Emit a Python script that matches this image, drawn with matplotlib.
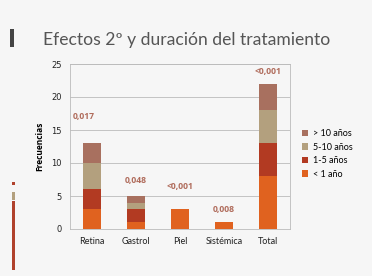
import numpy as np
from matplotlib import pyplot as plt
from matplotlib.patches import Rectangle

categories = ['Retina', 'Gastrol', 'Piel', 'Sistémica', 'Total']
menos_1 = [3, 1, 3, 1, 8]
de_1_5 = [3, 2, 0, 0, 5]
de_5_10 = [4, 1, 0, 0, 5]
mas_10 = [3, 1, 0, 0, 4]
p_values = ['0,017', '0,048', '<0,001', '0,008', '<0,001']
p_heights = [17.0, 7.3, 6.4, 2.9, 23.8]

series = [('< 1 año', menos_1, '#e0621f'),
          ('1-5 años', de_1_5, '#b23a22'),
          ('5-10 años', de_5_10, '#b3a07e'),
          ('> 10 años', mas_10, '#a8705f')]

W, H = 372, 276
fig = plt.figure(figsize=(W / 100, H / 100), dpi=100)
fig.patch.set_facecolor('#f6f6f6')

# slide decorations
fig.add_artist(Rectangle((10 / W, 1 - 47 / H), 4 / W, 18 / H, transform=fig.transFigure,
                         color='#444444', lw=0))
fig.add_artist(Rectangle((12 / W, 1 - 270 / H), 3 / W, 69 / H, transform=fig.transFigure,
                         color='#b0412c', lw=0))
fig.add_artist(Rectangle((12 / W, 1 - 200 / H), 3 / W, 8 / H, transform=fig.transFigure,
                         color='#b3a07e', lw=0))
fig.add_artist(Rectangle((12 / W, 1 - 185 / H), 3 / W, 3 / H, transform=fig.transFigure,
                         color='#b0412c', lw=0))

fig.text(43 / W, 1 - 40 / H, 'Efectos 2º y duración del tratamiento', fontsize=12.6,
         family='Lato', color='#555555', va='center', ha='left')

ax = fig.add_axes([70 / W, 47 / H, 220 / W, 165 / H])
ax.set_facecolor('#f6f6f6')
x = np.arange(len(categories))
bottom = np.zeros(len(categories))
handles = []
for label, vals, color in series:
    b = ax.bar(x, vals, 0.41, bottom=bottom, color=color, label=label, zorder=3)
    handles.append(b)
    bottom += np.array(vals)

for xi, txt, h in zip(x, p_values, p_heights):
    ax.text(xi - 0.18 if xi == 0 else xi, h, txt, ha='center', va='center', fontsize=6.2,
            fontweight='bold', color='#b06c5c', family='Open Sans')

ax.set_xlim(-0.5, 4.5)
ax.set_ylim(0, 25)
ax.set_yticks([0, 5, 10, 15, 20, 25])
ax.set_xticks(x)
ax.set_xticklabels(categories, fontsize=6.5, family='Lato', color='#222222')
ax.tick_params(axis='y', labelsize=6, colors='#222222', length=0, pad=6)
ax.tick_params(axis='x', length=0, pad=6)
ax.grid(axis='y', color='#bbbbbb', lw=0.6, zorder=0)
for s in ax.spines.values():
    s.set_color('#bbbbbb')
    s.set_linewidth(0.6)
ax.set_ylabel('Frecuencias', fontsize=6, fontweight='bold', family='Open Sans', labelpad=5)

leg = fig.legend(handles[::-1], [s[0] for s in series][::-1], loc='upper left',
                 bbox_to_anchor=(294 / W, 1 - 121 / H), frameon=False,
                 prop={'family': 'Lato', 'size': 6.5}, handlelength=0.7, handleheight=0.7,
                 handletextpad=0.5, labelspacing=0.5)

fig.savefig('out.png', dpi=100, facecolor=fig.get_facecolor())
